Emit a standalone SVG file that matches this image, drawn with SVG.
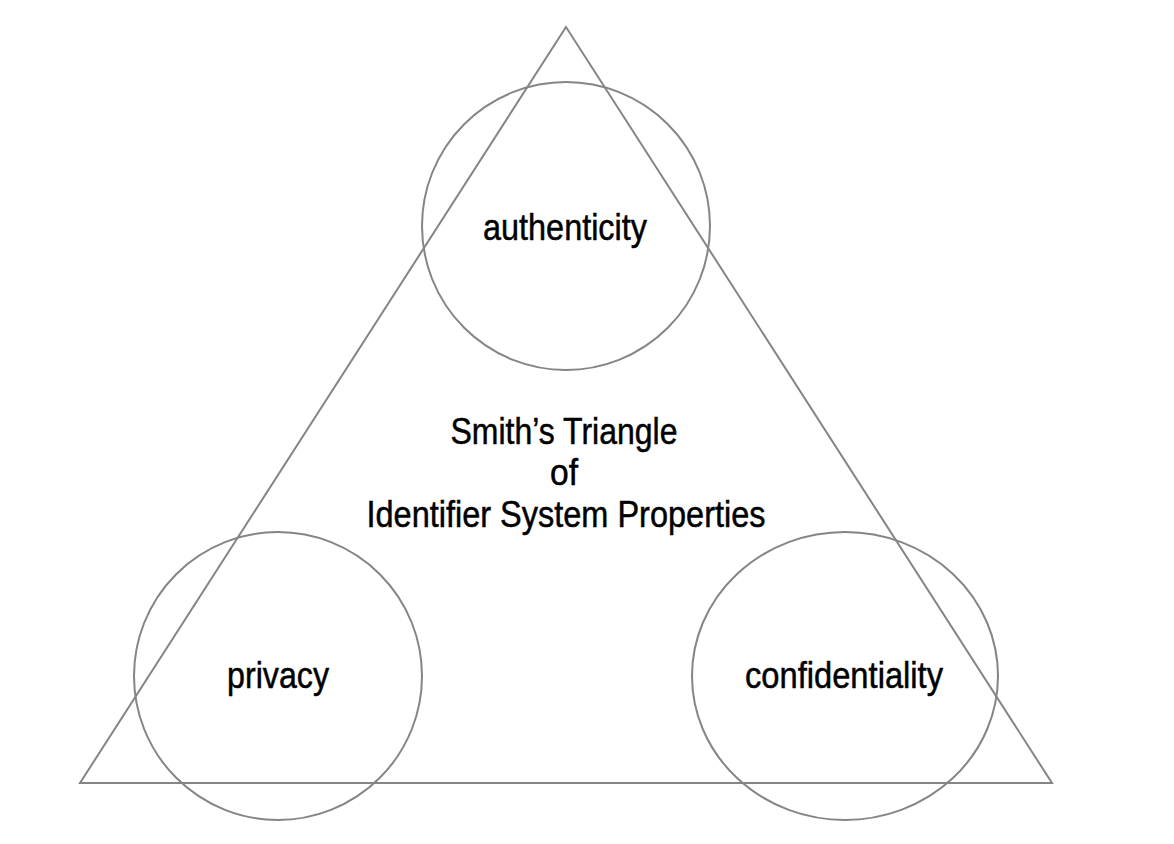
<svg xmlns="http://www.w3.org/2000/svg" width="1174" height="844" viewBox="0 0 1174 844">
<style>
.shape{fill:none;stroke:#858585;stroke-width:2}
.lbl{font-family:"Liberation Sans",Arial,sans-serif;font-size:37px;fill:#000;stroke:#000;stroke-width:0.5;text-anchor:middle}
</style>
<rect x="0" y="0" width="1174" height="844" fill="#ffffff"/>
<g id="triangle">
<polygon class="shape" points="566,27 80,783 1052,783"/>
</g>
<g id="title">
<text class="lbl" x="564" y="444" textLength="227" lengthAdjust="spacingAndGlyphs">Smith’s Triangle</text>
<text class="lbl" x="564" y="485" textLength="28" lengthAdjust="spacingAndGlyphs">of</text>
<text class="lbl" x="566" y="527" textLength="399" lengthAdjust="spacingAndGlyphs">Identifier System Properties</text>
</g>
<g id="authenticity">
<circle class="shape" cx="566" cy="226" r="144"/>
<text class="lbl" x="565" y="240" textLength="164" lengthAdjust="spacingAndGlyphs">authenticity</text>
</g>
<g id="privacy">
<circle class="shape" cx="278" cy="676" r="144"/>
<text class="lbl" x="278" y="688" textLength="102" lengthAdjust="spacingAndGlyphs">privacy</text>
</g>
<g id="confidentiality">
<ellipse class="shape" cx="845" cy="676" rx="153" ry="144"/>
<text class="lbl" x="844" y="688" textLength="198" lengthAdjust="spacingAndGlyphs">confidentiality</text>
</g>
<g id="connectors"></g>
</svg>
